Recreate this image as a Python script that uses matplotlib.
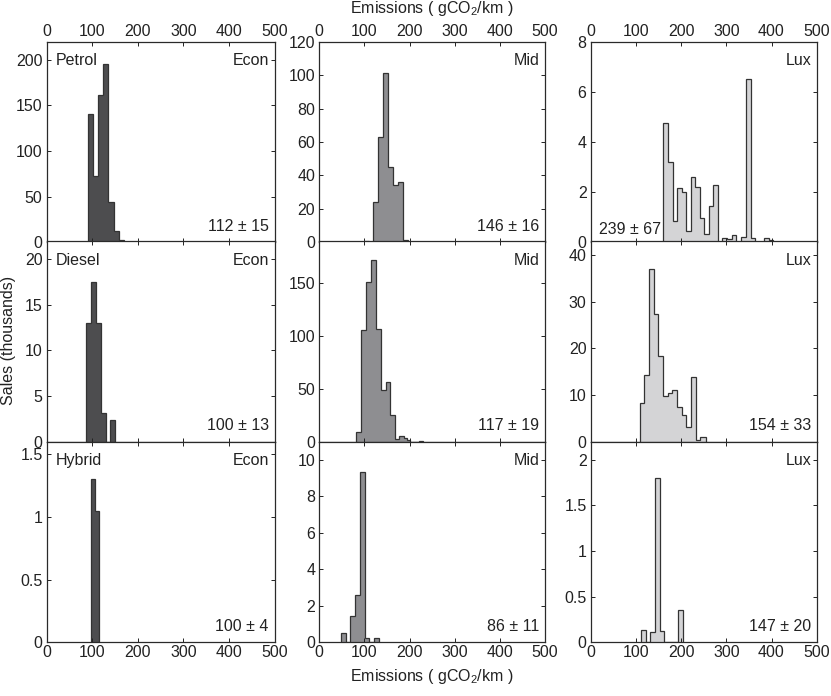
import matplotlib
matplotlib.use('Agg')
import matplotlib.pyplot as plt
from matplotlib.ticker import FormatStrFormatter

plt.rcParams['font.family'] = ['Liberation Sans', 'DejaVu Sans']
plt.rcParams['mathtext.default'] = 'regular'

# fuel types (rows) and classes (columns)
fuels = ['Petrol', 'Diesel', 'Hybrid']
classes = ['Econ', 'Mid', 'Lux']
class_colors = ['#4d4d4f', '#8e8e91', '#d4d4d6']

# bin edges (gCO2/km) and sales (thousands)
petrol_econ_edges = [91, 102, 113, 124.5, 135.5, 147, 158, 169]
petrol_econ_sales = [141, 73, 161, 196, 44, 12, 2]
petrol_mid_edges = [98.5, 109.5, 119.5, 130.5, 141.5, 152.5, 163.5, 174, 185, 196]
petrol_mid_sales = [1, 0, 24, 63, 101, 45, 34, 36, 1.6]
petrol_lux_edges = [161, 171, 181, 191, 201, 211, 221, 231, 241, 251, 261, 271, 281,
                    291, 302, 312, 322, 332, 343, 354, 364, 374, 384, 394, 404]
petrol_lux_sales = [4.75, 3.2, 0.83, 2.15, 2.0, 0.43, 2.6, 2.2, 0.97, 0.31, 1.44, 2.28,
                    0, 0.16, 0.12, 0.27, 0, 0.2, 6.5, 0.15, 0, 0, 0.15, 0.1]

diesel_econ_edges = [86.5, 97.5, 108.5, 119.5, 130, 140, 151]
diesel_econ_sales = [13.0, 17.5, 13.0, 3.1, 0, 2.35]
diesel_mid_edges = [82, 93, 104, 115, 125, 136, 147, 157, 167, 177, 187.5, 194, 201, 220, 231]
diesel_mid_sales = [8.9, 106, 151.6, 171.6, 106.9, 49.2, 56.8, 24.7, 2.5, 5.4, 3.5, 1.5, 0, 0.2]
diesel_lux_edges = [108, 118, 128, 139, 149, 159, 170, 180, 190, 201, 211, 221, 232, 242, 254]
diesel_lux_sales = [8.2, 14.2, 37, 27.3, 18.3, 9.7, 10.4, 11.1, 7.4, 5.6, 3.1, 13.9, 0.3, 0.9]

hybrid_econ_edges = [96.5, 105.5, 114.5]
hybrid_econ_sales = [1.3, 1.05]
hybrid_mid_edges = [47.5, 58.5, 69, 79.5, 89.5, 100.5, 111, 121.5, 132.5]
hybrid_mid_sales = [0.48, 0, 1.41, 2.6, 9.36, 0.24, 0, 0.24]
hybrid_lux_edges = [111, 122, 131, 142, 153, 163, 193, 204]
hybrid_lux_sales = [0.13, 0, 0.11, 1.8, 0.12, 0, 0.35]

edges = [[petrol_econ_edges, petrol_mid_edges, petrol_lux_edges],
         [diesel_econ_edges, diesel_mid_edges, diesel_lux_edges],
         [hybrid_econ_edges, hybrid_mid_edges, hybrid_lux_edges]]
sales = [[petrol_econ_sales, petrol_mid_sales, petrol_lux_sales],
         [diesel_econ_sales, diesel_mid_sales, diesel_lux_sales],
         [hybrid_econ_sales, hybrid_mid_sales, hybrid_lux_sales]]

stats = [['112 ± 15', '146 ± 16', '239 ± 67'],
         ['100 ± 13', '117 ± 19', '154 ± 33'],
         ['100 ± 4', '86 ± 11', '147 ± 20']]

y_max = [[220, 120, 8], [22, 190, 43], [1.6, 11, 2.2]]
y_ticks = [[[0, 50, 100, 150, 200], [0, 20, 40, 60, 80, 100, 120], [0, 2, 4, 6, 8]],
           [[0, 5, 10, 15, 20], [0, 50, 100, 150], [0, 10, 20, 30, 40]],
           [[0, 0.5, 1, 1.5], [0, 2, 4, 6, 8, 10], [0, 0.5, 1, 1.5, 2]]]
x_ticks = [0, 100, 200, 300, 400, 500]

W, H = 831, 696
fig = plt.figure(figsize=(W / 100, H / 100), dpi=100)

col_left = [46.7, 319.3, 590.7]
col_width = [227.8, 225.5, 226]
row_top = [41.7, 241, 441.7]
row_h = 200.5

fs = 11.5
ink = '#222222'
for r in range(3):
    for c in range(3):
        ax = fig.add_axes([col_left[c] / W, (H - row_top[r] - row_h) / H,
                           col_width[c] / W, row_h / H])
        ax.stairs(sales[r][c], edges[r][c], fill=True,
                  facecolor=class_colors[c], edgecolor='#333333', linewidth=0.9)
        ax.set_xlim(0, 500)
        ax.set_ylim(0, y_max[r][c])
        ax.set_xticks(x_ticks)
        ax.set_yticks(y_ticks[r][c])
        ax.yaxis.set_major_formatter(FormatStrFormatter('%g'))
        ax.tick_params(direction='in', length=3, width=0.7, top=True, right=True,
                       labelsize=fs, pad=3, colors=ink)
        ax.tick_params(axis='x', labeltop=(r == 0), labelbottom=(r == 2), pad=2)
        for s in ax.spines.values():
            s.set_color('#2a2a2a')
            s.set_linewidth(0.9)

        if c == 0:
            ax.text(0.04, 0.905, fuels[r], transform=ax.transAxes,
                    fontsize=fs, ha='left', va='center', color=ink)
        ax.text(0.975, 0.905, classes[c], transform=ax.transAxes,
                fontsize=fs, ha='right', va='center', color=ink)
        if r == 0 and c == 2:
            ax.text(0.035, 0.065, stats[r][c], transform=ax.transAxes,
                    fontsize=fs, ha='left', va='center', color=ink)
        else:
            ax.text(0.975, 0.08, stats[r][c], transform=ax.transAxes,
                    fontsize=fs, ha='right', va='center', color=ink)

label = 'Emissions ( gCO$_2$/km )'
fig.text(432 / W, 1 - 8 / H, label, ha='center', va='center', fontsize=fs, color=ink)
fig.text(432 / W, 1 - 676 / H, label, ha='center', va='center', fontsize=fs, color=ink)
fig.text(9 / W, 1 - 340 / H, 'Sales (thousands)', rotation=90,
         ha='center', va='center', fontsize=fs, color=ink)

fig.savefig('out.png', dpi=100)
